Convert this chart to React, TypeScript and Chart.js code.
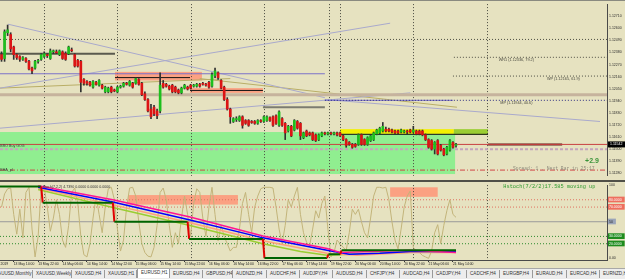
import { useEffect, useRef } from "react";
import { Chart, registerables } from "chart.js";

Chart.register(...registerables);
Chart.defaults.font.family = "'Liberation Sans', Arial, sans-serif";

// ---------------- DATA ----------------
// EURUSD H1 bars (bar index 0 = 13 May 10:00)
const OPEN = [
  1.1236, 1.12325, 1.1256, 1.12543, 1.1243, 1.1236, 1.12343, 1.12317, 1.12325, 1.12299,
  1.12238, 1.12238, 1.12299, 1.12317, 1.12343, 1.1236, 1.12325, 1.12386, 1.12386, 1.1236,
  1.12386, 1.12369, 1.12369, 1.12403, 1.1236, 1.12308, 1.12299, 1.12134, 1.12116, 1.12108,
  1.12064, 1.12108, 1.12082, 1.12082, 1.12021, 1.12021, 1.12064, 1.12038, 1.12021, 1.12064,
  1.12073, 1.12099, 1.12082, 1.12099, 1.12099, 1.12134, 1.12099, 1.12003, 1.11951, 1.11864,
  1.11881, 1.11847, 1.11847, 1.12099, 1.1209, 1.12073, 1.12082, 1.12064, 1.12038, 1.12012,
  1.12055, 1.12064, 1.12082, 1.12073, 1.12073, 1.1209, 1.12099, 1.1209, 1.12108, 1.12073,
  1.12169, 1.12195, 1.12125, 1.12064, 1.11951, 1.11864, 1.11751, 1.11768, 1.1176, 1.11794,
  1.1176, 1.1176, 1.11751, 1.11751, 1.11734, 1.1176, 1.11751, 1.1176, 1.11786, 1.11794,
  1.11803, 1.11716, 1.11777, 1.11734, 1.11664, 1.11707, 1.11673, 1.11751, 1.11734, 1.11603,
  1.11664, 1.11647, 1.11647, 1.11629, 1.11586, 1.1162, 1.11647, 1.11638, 1.11647, 1.11638,
  1.11647, 1.11647, 1.1162, 1.11586, 1.1156, 1.11542, 1.11542, 1.11542, 1.11629, 1.11586,
  1.11542, 1.11577, 1.11586, 1.11638, 1.11647, 1.11664, 1.11681, 1.11681, 1.11673, 1.11664,
  1.11664, 1.11655, 1.11655, 1.11664, 1.11673, 1.11655, 1.11664, 1.11664, 1.11664, 1.11629,
  1.11586, 1.11577, 1.11499, 1.11577, 1.11533, 1.11499, 1.11455, 1.1149, 1.1156, 1.11533,
];
const HIGH = [
  1.12386, 1.12586, 1.1263, 1.1256, 1.12438, 1.12369, 1.12351, 1.12343, 1.12334, 1.12308,
  1.12247, 1.12308, 1.12317, 1.12369, 1.12386, 1.12369, 1.12412, 1.12403, 1.12403, 1.12403,
  1.12395, 1.12386, 1.12438, 1.12421, 1.12369, 1.12317, 1.12308, 1.12142, 1.12125, 1.12116,
  1.12125, 1.12116, 1.12134, 1.1209, 1.12073, 1.12064, 1.12073, 1.12047, 1.12073, 1.12082,
  1.12108, 1.12108, 1.12125, 1.12108, 1.12151, 1.12142, 1.12108, 1.12021, 1.1196, 1.11908,
  1.11899, 1.11864, 1.12195, 1.12125, 1.12099, 1.12082, 1.1209, 1.12073, 1.12047, 1.12064,
  1.1209, 1.12073, 1.1209, 1.1209, 1.12099, 1.12099, 1.12108, 1.12099, 1.12116, 1.12195,
  1.12238, 1.12203, 1.12134, 1.12073, 1.11968, 1.11873, 1.11786, 1.11794, 1.11803, 1.11803,
  1.11768, 1.11768, 1.1176, 1.1176, 1.11768, 1.11768, 1.11803, 1.11803, 1.11794, 1.11803,
  1.11812, 1.11847, 1.11786, 1.11742, 1.11716, 1.11716, 1.11768, 1.1176, 1.11742, 1.11655,
  1.11673, 1.11655, 1.11655, 1.11638, 1.11638, 1.11655, 1.11655, 1.11655, 1.11655, 1.11655,
  1.11655, 1.11655, 1.11629, 1.11594, 1.11568, 1.11551, 1.11551, 1.11638, 1.11638, 1.11594,
  1.11612, 1.11629, 1.11655, 1.11681, 1.11699, 1.11742, 1.11699, 1.1169, 1.11681, 1.11673,
  1.11673, 1.11681, 1.11673, 1.11673, 1.11681, 1.11707, 1.11673, 1.11673, 1.11673, 1.11638,
  1.11594, 1.11586, 1.11568, 1.11586, 1.11542, 1.11507, 1.11525, 1.11586, 1.11568, 1.11551,
];
const LOW = [
  1.12299, 1.12299, 1.12534, 1.12386, 1.12317, 1.12317, 1.12299, 1.12308, 1.1229, 1.12221,
  1.12186, 1.12229, 1.12282, 1.12308, 1.12334, 1.12334, 1.12317, 1.12369, 1.12369, 1.12351,
  1.12317, 1.12308, 1.1236, 1.12386, 1.12247, 1.12247, 1.12021, 1.12082, 1.12082, 1.12073,
  1.12055, 1.12082, 1.12073, 1.12047, 1.12012, 1.12012, 1.12012, 1.12021, 1.12012, 1.12055,
  1.12064, 1.12082, 1.12073, 1.12055, 1.1209, 1.12082, 1.11986, 1.11942, 1.11838, 1.11777,
  1.11803, 1.11777, 1.11829, 1.12055, 1.12064, 1.12038, 1.12012, 1.12012, 1.12003, 1.12003,
  1.12047, 1.12038, 1.12047, 1.12064, 1.12064, 1.12064, 1.12082, 1.12073, 1.12055, 1.12064,
  1.12151, 1.12134, 1.12047, 1.11942, 1.11855, 1.11734, 1.11742, 1.11751, 1.11751, 1.1169,
  1.11725, 1.11707, 1.11734, 1.11725, 1.11725, 1.11742, 1.11742, 1.11751, 1.11751, 1.11707,
  1.11725, 1.11707, 1.11707, 1.11586, 1.11655, 1.11612, 1.11664, 1.11681, 1.11586, 1.11594,
  1.11612, 1.1162, 1.11577, 1.11568, 1.11577, 1.11612, 1.11629, 1.11629, 1.11629, 1.11629,
  1.1162, 1.11612, 1.11577, 1.11516, 1.11533, 1.11507, 1.11516, 1.11533, 1.11533, 1.11533,
  1.11533, 1.11568, 1.11577, 1.11629, 1.11638, 1.11655, 1.11655, 1.11655, 1.11647, 1.11638,
  1.11638, 1.11647, 1.11647, 1.11638, 1.11647, 1.11647, 1.11629, 1.11629, 1.1162, 1.11577,
  1.11507, 1.1149, 1.11455, 1.11446, 1.11481, 1.11438, 1.11446, 1.11481, 1.11507, 1.11516,
];
const CLOSE = [
  1.12317, 1.12569, 1.12586, 1.12412, 1.1236, 1.12334, 1.12317, 1.12334, 1.12299, 1.12229,
  1.12212, 1.12299, 1.12308, 1.1236, 1.12369, 1.12351, 1.12395, 1.12395, 1.12377, 1.12395,
  1.12325, 1.12317, 1.1243, 1.12395, 1.12256, 1.12256, 1.12108, 1.12099, 1.12099, 1.12082,
  1.12116, 1.1209, 1.12125, 1.12055, 1.12064, 1.12055, 1.12021, 1.12029, 1.12064, 1.12073,
  1.12099, 1.1209, 1.12116, 1.12064, 1.12142, 1.1209, 1.11995, 1.11951, 1.11847, 1.11794,
  1.11821, 1.11803, 1.12082, 1.12064, 1.12073, 1.12047, 1.12021, 1.12021, 1.12012, 1.12055,
  1.12082, 1.12047, 1.12055, 1.12082, 1.1209, 1.12073, 1.1209, 1.12082, 1.12064, 1.12177,
  1.12212, 1.12151, 1.12055, 1.11951, 1.11864, 1.11794, 1.11777, 1.11777, 1.11794, 1.11716,
  1.11734, 1.11716, 1.11742, 1.11734, 1.1176, 1.11751, 1.11794, 1.11794, 1.1176, 1.11716,
  1.11734, 1.11838, 1.11716, 1.11647, 1.11707, 1.1162, 1.1176, 1.1169, 1.1162, 1.11647,
  1.1162, 1.11629, 1.11586, 1.11577, 1.11629, 1.11647, 1.11638, 1.11647, 1.11638, 1.11647,
  1.11629, 1.1162, 1.11586, 1.11533, 1.11542, 1.11516, 1.11525, 1.11629, 1.11542, 1.11542,
  1.11603, 1.1162, 1.11647, 1.11673, 1.1169, 1.11707, 1.11664, 1.11664, 1.11655, 1.11647,
  1.11647, 1.11673, 1.11664, 1.11655, 1.11655, 1.11673, 1.11638, 1.11638, 1.11629, 1.11586,
  1.11516, 1.11499, 1.1156, 1.11455, 1.1149, 1.11446, 1.11516, 1.11577, 1.11516, 1.11542,
];

const PRICE_TICKS = [1.1128, 1.1139, 1.115, 1.1161, 1.1172, 1.1183, 1.1194, 1.1205, 1.1216, 1.1227, 1.1238, 1.1249, 1.126, 1.1271];
const TIME_TICK_BARS = [4, 12, 20, 28, 36, 44, 52, 60, 68, 76, 84, 92, 100, 108, 116, 124, 132, 140, 148];
const TIME_TICK_LABELS = [
  "13 May 14:00", "13 May 22:00", "14 May 06:00", "14 May 14:00", "14 May 22:00", "15 May 06:00",
  "15 May 14:00", "15 May 22:00", "16 May 06:00", "16 May 14:00", "16 May 22:00", "17 May 06:00",
  "17 May 14:00", "19 May 22:00", "20 May 06:00", "20 May 14:00", "20 May 22:00", "21 May 06:00", "21 May 14:00",
];
const FIRST_DATE = "13 May 2019";
const DAY_SEPARATORS = [14, 38, 62, 86, 107.5, 111, 135, 159];

// chart objects: [fromBar, fromPrice, toBar, toPrice, style]
const LINES: [number, number, number, number, string][] = [
  [-0.5, 1.12499, 198.5, 1.12499, "dotDark"],
  [148.3, 1.12336, 198.5, 1.12336, "dotDark"],
  [148.0, 1.12165, 198.5, 1.12165, "dotDark"],
  [106, 1.11944, 198.5, 1.11944, "dotNavy"],
  [106, 1.11944, 148, 1.11944, "slate"],
  [-0.5, 1.12186, 106, 1.12186, "slate"],
  [-0.5, 1.11995, 198.5, 1.11995, "tan"],
  [-0.5, 1.12369, 37.2, 1.12369, "darkGray"],
  [85.7, 1.11881, 106, 1.11881, "gray2"],
  [37.2, 1.12151, 61.8, 1.12151, "black"],
  [61.8, 1.12034, 85.7, 1.12034, "black"],
  [111, 1.11634, 159.5, 1.11634, "black"],
  [-0.5, 1.11542, 198.5, 1.11542, "bid"],
  [159.5, 1.11542, 183.8, 1.11542, "darkRed"],
  [-0.5, 1.11499, 198.5, 1.11499, "pinkDash"],
  [-0.5, 1.11308, 198.5, 1.11308, "redDashDot"],
  [2.1, 1.12638, 106, 1.11968, "trend"],
  [-0.5, 1.12055, 127.4, 1.12647, "trend"],
  [-0.5, 1.1169, 134, 1.12012, "trend"],
  [106, 1.11951, 196.2, 1.11751, "trend"],
  [-0.5, 1.12055, 75, 1.12142, "olive"],
  [65, 1.12142, 149.3, 1.11881, "olive"],
];
// rectangles: [fromBar, toBar, topPrice, bottomPrice, style]
const ZONES: [number, number, number, number, string][] = [
  [-0.5, 148.7, 1.11655, 1.11272, "green"],
  [37.2, 65.7, 1.12203, 1.12125, "salmon"],
  [61.8, 85.7, 1.12055, 1.12012, "salmon"],
  [111, 148.3, 1.11681, 1.11638, "yellow"],
  [148.3, 159.5, 1.11681, 1.11629, "yellowGreen"],
];

// indicator (0..100), one value per bar
const STOCH = [
  70, 88, 95, 96, 60, 33, 67, 28, 90, 97,
  40, 2, 30, 95, 97, 70, 37, 55, 80, 60,
  25, 15, 45, 90, 96, 75, 30, 5, 2, 20,
  55, 85, 60, 35, 70, 95, 97, 80, 40, 10,
  25, 70, 96, 97, 85, 50, 20, 8, 3, 2,
  15, 45, 90, 96, 80, 45, 15, 35, 20, 55,
  85, 60, 30, 75, 95, 90, 55, 30, 70, 97,
  60, 24, 45, 30, 20, 10, 15, 15, 40, 75,
  90, 60, 35, 70, 85, 95, 97, 97, 97, 96,
  70, 40, 20, 45, 80, 70, 85, 97, 60, 35,
  22, 17, 40, 65, 55, 75, 85, 40, 2, 8,
  25, 20, 15, 11, 35, 67, 60, 67, 50, 35,
  28, 55, 85, 97, 97, 96, 97, 80, 50, 25,
  13, 40, 70, 85, 92, 15, 10, 8, 4, 2,
  0, 10, 35, 46, 20, 45, 65, 80, 60, 56,
];
const MA_PINK: [number, number][] = [[12, 99], [36.5, 80], [61.8, 56.5], [85.7, 30.6], [106.7, 13.4], [111, 8], [134, 11], [149, 8]];
const MA_BLUE: [number, number][] = [[12, 97], [36.5, 77], [61.8, 52.5], [85.7, 28], [106.7, 11], [114, 5.6], [124, 7], [134, 9.5], [149, 9.5]];
const MA_LIME: [number, number][] = [[12, 94], [36.5, 69.5], [61.8, 45], [85.7, 20], [98, 9.5], [106.7, 4.3], [114, 5.6], [130.5, 8], [149, 9.5]];
const MA_SALMON: [number, number][] = [[12, 96], [36.5, 73], [61.8, 48.5], [85.7, 24], [106.7, 7], [116.5, 4.3], [134, 8], [149, 8]];
const STEP_LINE: [number, number][] = [[-0.5, 98], [13, 98], [13.5, 76], [36.5, 76], [37, 50], [61, 50], [61.5, 26.5], [85.7, 26.5], [86.2, 0.4], [106.7, 0.4], [107.2, 5.6], [111, 5.6], [111.5, 11], [149, 11]];
const IND_LEVELS = [80, 70, 50, 30, 20];
const IND_ZONES: [number, number, number, number][] = [[41.5, 77.5, 86.4, 73.4], [127.4, 143, 97, 84]];
const IND_TICKS = [0, 20, 30, 50, 70, 80, 100];

const TAB_NAMES = ["XAUUSD,Monthly", "XAUUSD,Weekly", "XAUUSD,H4", "XAUUSD,H1", "EURUSD,H1", "EURUSD,H4", "GBPUSD,H4", "AUDNZD,H4", "AUDCHF,H4", "AUDJPY,H4", "AUDUSD,H4", "CHFJPY,H4", "AUDCAD,H4", "CADJPY,H4", "CADCHF,H4", "EURGBP,H4", "EURAUD,H4", "EURCAD,H4", "EURNZD,H4"];
const ACTIVE_TAB = 4;

// ---------------- STYLES ----------------
const BG = "#e6e2c0";
const BULL = "#1dbf1d";
const BEAR = "#dc1414";
const WICK = "#303030";
const LINE_STYLES: Record<string, { color: string; width: number; dash: number[] }> = {
  dotDark: { color: "#4f4f44", width: 1, dash: [1, 2] },
  dotNavy: { color: "#2a2a80", width: 1, dash: [1, 2] },
  slate: { color: "#7b72c9", width: 1, dash: [] },
  tan: { color: "#c6b39d", width: 3, dash: [] },
  darkGray: { color: "#5a5a4e", width: 2, dash: [] },
  gray2: { color: "#7c7c70", width: 2, dash: [] },
  black: { color: "#141414", width: 1, dash: [] },
  bid: { color: "#c84040", width: 1, dash: [] },
  darkRed: { color: "#5a1d1d", width: 2, dash: [] },
  pinkDash: { color: "#c4a4bc", width: 2, dash: [3, 2] },
  redDashDot: { color: "#d04848", width: 1, dash: [5, 2, 1, 2] },
  trend: { color: "#a9a9cc", width: 1, dash: [] },
  olive: { color: "#b9ae66", width: 1, dash: [] },
};
const ZONE_COLORS: Record<string, string> = {
  green: "#90ee90",
  salmon: "#fba182",
  yellow: "#f4f000",
  yellowGreen: "#9acd32",
};

const X_MIN = -0.5;
const X_MAX = 198.5;

function drawSeparators(chart: any) {
  const { ctx, chartArea, scales } = chart;
  ctx.save();
  ctx.strokeStyle = "#4a4a40";
  ctx.lineWidth = 1;
  ctx.setLineDash([1, 2]);
  DAY_SEPARATORS.forEach((b) => {
    const x = Math.round(scales.x.getPixelForValue(b)) + 0.5;
    ctx.beginPath();
    ctx.moveTo(x, chartArea.top);
    ctx.lineTo(x, chartArea.bottom);
    ctx.stroke();
  });
  ctx.restore();
}

const mainPlugin = {
  id: "mainObjects",
  beforeDatasetsDraw(chart: any) {
    const { ctx, chartArea, scales } = chart;
    ctx.save();
    ctx.beginPath();
    ctx.rect(chartArea.left, chartArea.top, chartArea.width, chartArea.height);
    ctx.clip();
    ZONES.forEach(([b0, b1, p0, p1, st]) => {
      const x0 = scales.x.getPixelForValue(b0);
      const x1 = scales.x.getPixelForValue(b1);
      const y0 = scales.y.getPixelForValue(p0);
      const y1 = scales.y.getPixelForValue(p1);
      ctx.fillStyle = ZONE_COLORS[st];
      ctx.fillRect(x0, y0, x1 - x0, y1 - y0);
    });
    ctx.restore();
    drawSeparators(chart);
  },
  afterDraw(chart: any) {
    const { ctx, scales, chartArea } = chart;
    ctx.save();
    const txt = (t: string, b: number, p: number, dy: number, font: string, color: string) => {
      ctx.font = font;
      ctx.fillStyle = color;
      ctx.textBaseline = "middle";
      ctx.textAlign = "left";
      ctx.fillText(t, scales.x.getPixelForValue(b), scales.y.getPixelForValue(p) + dy);
    };
    txt("WR1 (1.12336, 79.2)", 163, 1.12336, 3, "3.8px 'Liberation Sans'", "#4a4a40");
    txt("WP (1.12165, 61.9)", 178.8, 1.12165, 3, "3.8px 'Liberation Sans'", "#4a4a40");
    txt("MP (1.11944, 40.6)", 163.5, 1.11944, 3, "3.8px 'Liberation Sans'", "#4a4a40");
    txt("+2.9", 191.3, 1.11394, 0, "bold 7px 'Liberation Sans'", "#3a943a");
    txt("Spread: 1 . Next Bar in 25:17", 167.7, 1.11316, 0, "4.7px 'Liberation Mono'", "#8e8c7c");
    txt("BRO Buy GOG", -0.4, 1.11525, 0, "3.6px 'Liberation Sans'", "#3a3a3a");
    txt("BHA_pl", -0.4, 1.11308, 0, "3.6px 'Liberation Sans'", "#3a3a3a");
    const last = CLOSE[CLOSE.length - 1];
    const y = scales.y.getPixelForValue(last);
    ctx.fillStyle = "#000";
    ctx.fillRect(chartArea.right + 1, y - 3, 17, 6);
    ctx.fillStyle = "#fff";
    ctx.font = "3.5px 'Liberation Sans'";
    ctx.textAlign = "left";
    ctx.textBaseline = "middle";
    ctx.fillText(last.toFixed(5), chartArea.right + 3, y);
    ctx.restore();
  },
};

const indPlugin = {
  id: "indObjects",
  beforeDatasetsDraw(chart: any) {
    const { ctx, chartArea, scales } = chart;
    ctx.save();
    ctx.beginPath();
    ctx.rect(chartArea.left, chartArea.top, chartArea.width, chartArea.height);
    ctx.clip();
    IND_ZONES.forEach(([b0, b1, v0, v1]) => {
      const x0 = scales.x.getPixelForValue(b0);
      const x1 = scales.x.getPixelForValue(b1);
      const y0 = scales.y.getPixelForValue(v0);
      const y1 = scales.y.getPixelForValue(v1);
      ctx.fillStyle = "#fba182";
      ctx.fillRect(x0, y0, x1 - x0, y1 - y0);
    });
    ctx.restore();
    drawSeparators(chart);
  },
  afterDraw(chart: any) {
    const { ctx, scales, chartArea } = chart;
    ctx.save();
    ctx.textBaseline = "middle";
    ctx.textAlign = "left";
    ctx.font = "3.6px 'Liberation Sans'";
    ctx.fillStyle = "#333";
    ctx.fillText("Stoch(7,2,2) 4.7390 0.0000 0.0000 0.0000", scales.x.getPixelForValue(13.5), chartArea.top + 2);
    ctx.font = "5.3px 'Liberation Mono'";
    ctx.fillStyle = "#2e9a2e";
    ctx.fillText("Hstoch(7/2/2)17.585 moving up", scales.x.getPixelForValue(164.5), chartArea.top + 2);
    ctx.font = "3.5px 'Liberation Sans'";
    ctx.fillStyle = "#222";
    ctx.textAlign = "right";
    ctx.textBaseline = "top";
    ctx.fillText(FIRST_DATE, scales.x.getPixelForValue(2.2), chartArea.bottom + 1.5);
    ctx.restore();
  },
};

function lineDataset(pts: { x: number; y: number }[], color: string, width: number, dash: number[], order: number, extra: any = {}) {
  return {
    type: "line",
    data: pts,
    borderColor: color,
    borderWidth: width,
    borderDash: dash,
    pointRadius: 0,
    fill: false,
    tension: 0,
    order,
    ...extra,
  };
}

function mainConfig(): any {
  const wick = HIGH.map((h, i) => ({ x: i, y: [LOW[i], h] }));
  const body = OPEN.map((o, i) => ({ x: i, y: [o, CLOSE[i]] }));
  const colors = CLOSE.map((c, i) => (c >= OPEN[i] ? BULL : BEAR));
  const lines = LINES.map(([b0, p0, b1, p1, st]) => {
    const s = LINE_STYLES[st];
    return lineDataset([{ x: b0, y: p0 }, { x: b1, y: p1 }], s.color, s.width, s.dash, 5);
  });
  return {
    type: "bar",
    data: {
      datasets: [
        ...lines,
        { type: "bar", data: wick, backgroundColor: WICK, barThickness: 1, grouped: false, order: 2 },
        { type: "bar", data: body, backgroundColor: colors, barThickness: 2, grouped: false, minBarLength: 1, order: 1 },
      ],
    },
    options: {
      animation: false,
      responsive: false,
      maintainAspectRatio: false,
      events: [],
      layout: { padding: 0 },
      plugins: { legend: { display: false }, tooltip: { enabled: false } },
      scales: {
        x: { type: "linear", min: X_MIN, max: X_MAX, display: false, offset: false },
        y: {
          type: "linear",
          position: "right",
          min: 1.11255,
          max: 1.12821,
          afterBuildTicks: (s: any) => {
            s.ticks = PRICE_TICKS.map((v) => ({ value: v }));
          },
          afterFit: (s: any) => {
            s.width = 18;
          },
          grid: { display: false, drawTicks: false },
          border: { display: true, color: "#4a4a4a", width: 1 },
          ticks: {
            font: { size: 3.5 },
            color: "#2a2a2a",
            padding: 2,
            callback: (v: any) => Number(v).toFixed(5),
          },
        },
      },
    },
    plugins: [mainPlugin],
  };
}

function indConfig(): any {
  const levelStyle: Record<number, { color: string; dash: number[] }> = {
    80: { color: "#e07060", dash: [1, 2] },
    70: { color: "#e07060", dash: [1, 2] },
    50: { color: "#9a9a9a", dash: [] },
    30: { color: "#2e8b2e", dash: [1, 2] },
    20: { color: "#2e8b2e", dash: [1, 2] },
  };
  const levels = IND_LEVELS.map((v) =>
    lineDataset([{ x: X_MIN, y: v }, { x: X_MAX, y: v }], levelStyle[v].color, 1, levelStyle[v].dash, 9)
  );
  const toPts = (a: [number, number][]) => a.map(([x, y]) => ({ x, y }));
  const tickBg = (v: number) =>
    v === 80 || v === 70 ? "#ee6e5e" : v === 50 ? "#9aa4b8" : v === 30 || v === 20 ? "#1e8c1e" : "rgba(0,0,0,0)";
  return {
    type: "line",
    data: {
      datasets: [
        ...levels,
        lineDataset(STOCH.map((v, i) => ({ x: i, y: v })), "#c2b47a", 1, [], 6),
        lineDataset(toPts(MA_LIME), "#9acd32", 1.5, [], 5),
        lineDataset(toPts(MA_SALMON), "#ffa07a", 1.5, [], 4),
        lineDataset(toPts(MA_BLUE), "#0000ff", 1.5, [], 3),
        lineDataset(toPts(MA_PINK), "#ff1493", 1.5, [], 2),
        lineDataset(toPts(STEP_LINE), "#006400", 2, [], 1, {
          segment: {
            borderColor: (c: any) => (Math.abs(c.p1.parsed.x - c.p0.parsed.x) < 0.6 ? "#e00000" : undefined),
          },
        }),
      ],
    },
    options: {
      animation: false,
      responsive: false,
      maintainAspectRatio: false,
      events: [],
      layout: { padding: { top: 1, left: 0, right: 0, bottom: 0 } },
      plugins: { legend: { display: false }, tooltip: { enabled: false } },
      scales: {
        x: {
          type: "linear",
          min: X_MIN,
          max: X_MAX,
          offset: false,
          afterBuildTicks: (s: any) => {
            s.ticks = TIME_TICK_BARS.map((v) => ({ value: v }));
          },
          afterFit: (s: any) => {
            s.height = 7.5;
          },
          grid: { display: true, drawOnChartArea: false, drawTicks: true, tickLength: 1.5, color: "#333" },
          border: { display: true, color: "#4a4a4a", width: 1 },
          ticks: {
            align: "start",
            autoSkip: false,
            maxRotation: 0,
            minRotation: 0,
            padding: 0,
            font: { size: 3.4 },
            color: "#222",
            callback: (_v: any, i: number) => TIME_TICK_LABELS[i],
          },
        },
        y: {
          type: "linear",
          position: "right",
          min: -2.9,
          max: 100,
          afterBuildTicks: (s: any) => {
            s.ticks = IND_TICKS.map((v) => ({ value: v }));
          },
          afterFit: (s: any) => {
            s.width = 18;
          },
          grid: { display: false, drawTicks: false },
          border: { display: true, color: "#4a4a4a", width: 1 },
          ticks: {
            font: { size: 3.5 },
            padding: 2,
            color: (c: any) => ([80, 70, 30, 20].includes(c.tick.value) ? "#fff" : "#2a2a2a"),
            showLabelBackdrop: (c: any) => c.tick.value > 0 && c.tick.value < 100,
            backdropColor: (c: any) => tickBg(c.tick.value),
            backdropPadding: { top: 1, bottom: 0.5, left: 1, right: 3 },
            callback: (v: any) => (v === 100 ? "100" : v === 0 ? "0.00" : v === 50 ? "50" : Number(v).toFixed(4)),
          },
        },
      },
    },
    plugins: [indPlugin],
  };
}

const TAB_EDGES = [-8, 33, 72, 105, 137, 170, 203, 233, 267, 300, 333, 367, 400, 433, 467, 500, 533, 567, 600, 640];

function TabBar() {
  return (
    <div
      style={{
        position: "absolute",
        left: 0,
        top: 268,
        width: 625,
        height: 11,
        background: "#ededed",
        borderTop: "1px solid #a8a8a8",
        boxSizing: "border-box",
        overflow: "hidden",
        fontFamily: "'Liberation Sans', Arial, sans-serif",
        fontSize: "4.6px",
        color: "#333",
      }}
    >
      {TAB_NAMES.map((n, i) => {
        const left = TAB_EDGES[i];
        const w = TAB_EDGES[i + 1] - left;
        const active = i === ACTIVE_TAB;
        return (
          <div
            key={n + i}
            style={{
              position: "absolute",
              left,
              top: active ? -1 : 1,
              width: w,
              height: active ? 10 : 8,
              background: active ? "#ffffff" : "transparent",
              borderRight: "1px solid #9a9a9a",
              borderLeft: active ? "1px solid #9a9a9a" : "none",
              boxSizing: "border-box",
              lineHeight: active ? "10px" : "8px",
              paddingLeft: 3,
              whiteSpace: "nowrap",
              overflow: "hidden",
            }}
          >
            {n}
          </div>
        );
      })}
    </div>
  );
}

export default function App() {
  const mainRef = useRef<HTMLCanvasElement>(null);
  const indRef = useRef<HTMLCanvasElement>(null);
  useEffect(() => {
    document.body.style.margin = "0";
    const main = new Chart(mainRef.current as HTMLCanvasElement, mainConfig());
    const ind = new Chart(indRef.current as HTMLCanvasElement, indConfig());
    return () => {
      main.destroy();
      ind.destroy();
    };
  }, []);
  return (
    <div style={{ position: "fixed", left: 0, top: 0, width: 625, height: 279, background: BG, overflow: "hidden" }}>
      <div style={{ position: "absolute", left: 0, top: 0, width: 625, height: 1, background: "#8a8a80" }} />
      <canvas ref={mainRef} width={625} height={180} style={{ position: "absolute", left: 0, top: 0, width: 625, height: 180 }} />
      <div style={{ position: "absolute", left: 0, top: 180, width: 625, height: 1.5, background: "#505048" }} />
      <canvas ref={indRef} width={625} height={87} style={{ position: "absolute", left: 0, top: 181, width: 625, height: 87 }} />
      <TabBar />
    </div>
  );
}
